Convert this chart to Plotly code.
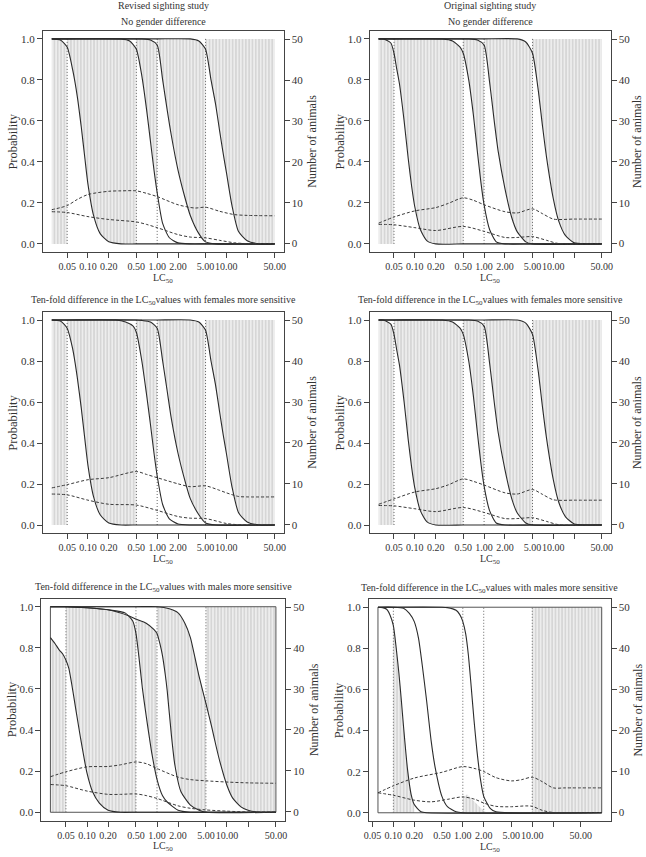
import math
import plotly.graph_objects as go

W, H = 646, 857
FONT = "Liberation Serif"
INK = "#333333"
STRIPE = "#d6d6d6"

# dose levels (dotted verticals) and LC50 ranges
DOSES_A = [0.05, 0.5, 1.0, 5.0]
DOSES_B = [0.1, 1.0, 2.0, 10.0]
RANGE_A = [0.03, 50]
RANGE_B = [0.06, 100]
PROB = [0.0, 1.0]

X_TICKS = [0.05, 0.1, 0.2, 0.5, 1, 2, 5, 10, 50]
X_TICKTEXT = ["0.05", "0.10", "0.20", "0.50", "1.00", "2.00", "5.00", "10.00", "50.00"]
X_UNLABELLED = [20]
P_TICKS = [0.0, 0.2, 0.4, 0.6, 0.8, 1.0]
P_TICKTEXT = ["0.0", "0.2", "0.4", "0.6", "0.8", "1.0"]
N_TICKS = [0, 10, 20, 30, 40, 50]

# ---- Revised sighting study, no gender difference (probability curves)
TL_C1 = [(0.03, 1.0), (0.04, 0.995), (0.05, 0.96), (0.06, 0.85), (0.07, 0.72), (0.08, 0.57),
         (0.09, 0.42), (0.1, 0.29), (0.12, 0.14), (0.15, 0.05), (0.2, 0.01), (0.3, 0.0),
         (0.5, 0.0), (1, 0.0), (5, 0.0), (50, 0.0)]
TL_C2 = [(0.03, 1.0), (0.05, 1.0), (0.3, 1.0), (0.4, 0.99), (0.5, 0.95), (0.6, 0.82), (0.7, 0.66),
         (0.8, 0.5), (0.9, 0.36), (1.0, 0.25), (1.2, 0.1), (1.5, 0.03), (2, 0.005), (3, 0.0),
         (5, 0.0), (50, 0.0)]
TL_C3 = [(0.03, 1.0), (0.05, 1.0), (0.5, 1.0), (0.6, 1.0), (0.8, 0.995), (1.0, 0.97), (1.2, 0.8),
         (1.4, 0.65), (1.6, 0.53), (2.0, 0.36), (2.5, 0.23), (3, 0.14), (4, 0.05), (5, 0.01),
         (7, 0.0), (50, 0.0)]
TL_C4 = [(0.03, 1.0), (0.05, 1.0), (0.5, 1.0), (1, 1.0), (3, 1.0), (4, 0.99), (5, 0.95), (6, 0.8),
         (7, 0.68), (8, 0.55), (9, 0.44), (10, 0.35), (12, 0.19), (15, 0.06), (20, 0.015),
         (30, 0.0), (50, 0.0)]
TL_UP = [(0.03, 8.3), (0.05, 9.3), (0.07, 10.8), (0.1, 12.0), (0.2, 12.8), (0.3, 12.9), (0.5, 12.9),
         (0.7, 12.3), (1.0, 11.5), (2, 9.5), (3.5, 8.7), (5, 8.9), (8, 7.9), (13, 7.1), (20, 6.9),
         (50, 6.8)]
TL_LO = [(0.03, 7.8), (0.05, 7.6), (0.1, 6.6), (0.2, 5.9), (0.5, 5.3), (0.7, 4.7), (1.0, 3.9),
         (2, 2.2), (3, 1.6), (5, 1.4), (8, 0.8), (13, 0.2), (20, 0.0), (50, 0.0)]

# ---- Original sighting study, no gender difference
TR_C1 = [(0.03, 1.0), (0.035, 1.0), (0.045, 0.98), (0.05, 0.93), (0.055, 0.85), (0.06, 0.78),
         (0.07, 0.6), (0.08, 0.42), (0.09, 0.28), (0.1, 0.18), (0.12, 0.07), (0.15, 0.015),
         (0.2, 0.0), (0.5, 0.0), (1, 0.0), (5, 0.0), (50, 0.0)]
TR_C2 = [(0.03, 1.0), (0.05, 1.0), (0.25, 1.0), (0.35, 0.99), (0.45, 0.96), (0.5, 0.93), (0.6, 0.8),
         (0.7, 0.63), (0.8, 0.45), (0.9, 0.3), (1.0, 0.19), (1.2, 0.07), (1.5, 0.01), (2, 0.0),
         (5, 0.0), (50, 0.0)]
TR_C3 = [(0.03, 1.0), (0.05, 1.0), (0.5, 1.0), (0.6, 1.0), (0.8, 0.995), (1.0, 0.97), (1.2, 0.79),
         (1.4, 0.6), (1.6, 0.45), (2.0, 0.27), (2.5, 0.13), (3, 0.06), (4, 0.01), (5, 0.0),
         (50, 0.0)]
TR_C4 = [(0.03, 1.0), (0.05, 1.0), (0.5, 1.0), (1, 1.0), (3, 1.0), (4, 0.985), (5, 0.93), (6, 0.76),
         (7, 0.57), (8, 0.42), (10, 0.22), (12, 0.11), (15, 0.04), (20, 0.005), (30, 0.0),
         (50, 0.0)]
TR_UP = [(0.03, 5.0), (0.05, 6.5), (0.1, 8.0), (0.2, 8.8), (0.3, 9.8), (0.5, 11.2), (0.7, 10.6),
         (1, 9.5), (2, 7.8), (3, 7.5), (5, 8.5), (7, 7.3), (10, 6.0), (20, 6.0), (50, 6.0)]
TR_LO = [(0.03, 4.7), (0.05, 4.6), (0.1, 3.9), (0.2, 3.2), (0.5, 4.2), (1, 3.0), (2, 1.5),
         (3, 1.5), (5, 1.7), (8, 0.8), (12, 0.0), (50, 0.0)]

# ---- ten-fold difference, females more sensitive
ML_C1 = [(0.03, 1.0), (0.04, 0.995), (0.05, 0.96), (0.06, 0.86), (0.07, 0.72), (0.08, 0.57),
         (0.09, 0.42), (0.1, 0.29), (0.12, 0.14), (0.15, 0.05), (0.2, 0.01), (0.3, 0.0),
         (0.5, 0.0), (1, 0.0), (5, 0.0), (50, 0.0)]
ML_C2 = [(0.03, 1.0), (0.05, 1.0), (0.25, 1.0), (0.35, 0.99), (0.45, 0.97), (0.5, 0.94), (0.6, 0.8),
         (0.7, 0.64), (0.8, 0.49), (0.9, 0.35), (1.0, 0.24), (1.2, 0.1), (1.5, 0.03), (2, 0.005),
         (3, 0.0), (5, 0.0), (50, 0.0)]
ML_C3 = [(0.03, 1.0), (0.05, 1.0), (0.5, 1.0), (0.6, 0.998), (0.8, 0.99), (1.0, 0.96), (1.2, 0.8),
         (1.4, 0.65), (1.6, 0.52), (2.0, 0.35), (2.5, 0.22), (3, 0.13), (4, 0.05), (5, 0.01),
         (7, 0.0), (50, 0.0)]
ML_C4 = [(0.03, 1.0), (0.05, 1.0), (0.5, 1.0), (1, 1.0), (3, 1.0), (4, 0.99), (5, 0.95), (6, 0.8),
         (7, 0.68), (8, 0.55), (9, 0.44), (10, 0.35), (12, 0.19), (15, 0.06), (20, 0.015),
         (30, 0.0), (50, 0.0)]
ML_UP = [(0.03, 9.0), (0.05, 9.8), (0.1, 11.0), (0.2, 11.5), (0.5, 13.0), (0.7, 12.3), (1, 11.5),
         (2, 10.0), (3, 9.3), (5, 9.5), (8, 8.4), (10, 7.8), (15, 6.9), (20, 6.8), (50, 6.8)]
ML_LO = [(0.03, 7.5), (0.05, 7.3), (0.1, 6.0), (0.2, 5.0), (0.5, 4.8), (1, 3.5), (2, 2.0),
         (3, 1.6), (5, 1.5), (10, 0.3), (15, 0.0), (50, 0.0)]

MR_C1 = TR_C1
MR_C2 = TR_C2
MR_C3 = TR_C3
MR_C4 = TR_C4
MR_UP = [(0.03, 5.0), (0.05, 6.3), (0.1, 8.0), (0.2, 8.8), (0.3, 9.7), (0.5, 11.2), (0.7, 10.6),
         (1, 9.7), (2, 7.8), (3, 7.5), (5, 8.6), (7, 7.4), (10, 6.1), (20, 6.0), (50, 6.0)]
MR_LO = [(0.03, 4.7), (0.05, 4.6), (0.1, 3.9), (0.2, 3.2), (0.5, 4.2), (1, 3.0), (2, 1.5),
         (3, 1.5), (5, 1.7), (8, 0.8), (12, 0.0), (50, 0.0)]

# ---- ten-fold difference, males more sensitive
BL_C1 = [(0.03, 0.85), (0.035, 0.82), (0.04, 0.79), (0.045, 0.77), (0.05, 0.74), (0.055, 0.7),
         (0.06, 0.63), (0.07, 0.49), (0.08, 0.37), (0.1, 0.19), (0.12, 0.1), (0.15, 0.045),
         (0.2, 0.01), (0.3, 0.0), (0.5, 0.0), (1, 0.0), (5, 0.0), (50, 0.0)]
BL_C2 = [(0.03, 1.0), (0.05, 1.0), (0.1, 0.995), (0.2, 0.985), (0.35, 0.97), (0.45, 0.93),
         (0.5, 0.87), (0.55, 0.76), (0.62, 0.6), (0.7, 0.47), (0.75, 0.4), (0.85, 0.28),
         (1.0, 0.16), (1.2, 0.08), (1.4, 0.05), (2, 0.01), (3, 0.0), (5, 0.0), (50, 0.0)]
BL_C3 = [(0.03, 1.0), (0.05, 1.0), (0.1, 0.995), (0.2, 0.985), (0.4, 0.955), (0.5, 0.94),
         (0.7, 0.92), (0.9, 0.89), (1.0, 0.87), (1.1, 0.82), (1.2, 0.76), (1.3, 0.68),
         (1.4, 0.59), (1.6, 0.38), (1.8, 0.23), (2.2, 0.1), (3, 0.035), (4, 0.01), (5, 0.0),
         (50, 0.0)]
BL_C4 = [(0.03, 1.0), (0.05, 1.0), (0.5, 1.0), (1, 1.0), (1.5, 0.99), (2, 0.97), (2.5, 0.92),
         (3, 0.85), (3.5, 0.75), (4, 0.66), (5, 0.53), (6, 0.42), (7, 0.32), (8, 0.24),
         (10, 0.13), (12, 0.07), (16, 0.025), (20, 0.01), (30, 0.0), (50, 0.0)]
BL_UP = [(0.03, 8.6), (0.05, 9.8), (0.1, 11.0), (0.2, 11.1), (0.3, 11.5), (0.5, 12.2), (0.7, 11.8),
         (1, 10.6), (2, 8.5), (3, 7.9), (5, 7.6), (10, 7.3), (20, 7.1), (50, 7.0)]
BL_LO = [(0.03, 6.7), (0.05, 6.4), (0.1, 5.1), (0.2, 4.3), (0.3, 4.3), (0.5, 4.4), (0.7, 4.0),
         (1, 3.3), (2, 1.5), (3, 0.9), (5, 0.5), (10, 0.2), (20, 0.0), (50, 0.0)]

BR_C1 = [(0.06, 1.0), (0.07, 0.998), (0.08, 0.99), (0.09, 0.96), (0.1, 0.91), (0.11, 0.8),
         (0.12, 0.68), (0.13, 0.55), (0.14, 0.42), (0.16, 0.21), (0.18, 0.09), (0.2, 0.04),
         (0.25, 0.005), (0.3, 0.0), (100, 0.0)]
BR_C2 = [(0.06, 1.0), (0.1, 1.0), (0.14, 0.995), (0.17, 0.97), (0.2, 0.93), (0.23, 0.85),
         (0.26, 0.72), (0.3, 0.55), (0.35, 0.35), (0.4, 0.22), (0.5, 0.08), (0.6, 0.03),
         (0.8, 0.005), (1, 0.0), (100, 0.0)]
BR_C3 = [(0.06, 1.0), (0.5, 1.0), (0.6, 0.998), (0.8, 0.985), (0.9, 0.965), (1.0, 0.93),
         (1.1, 0.87), (1.2, 0.77), (1.3, 0.64), (1.45, 0.45), (1.6, 0.3), (1.8, 0.16),
         (2.0, 0.08), (2.5, 0.02), (3, 0.005), (5, 0.0), (100, 0.0)]
BR_SPIKE = [(1.0, 0.07), (1.15, 0.09), (1.4, 0.06), (1.8, 0.025), (2.2, 0.0)]
BR_UP = [(0.06, 4.8), (0.1, 6.5), (0.2, 8.4), (0.5, 9.8), (1.0, 11.2), (1.5, 10.7), (2, 10.0),
         (3, 8.5), (5, 7.7), (7, 8.0), (10, 8.6), (14, 7.5), (20, 6.0), (30, 6.0), (100, 6.0)]
BR_LO = [(0.06, 4.8), (0.1, 4.2), (0.2, 3.0), (0.35, 2.6), (0.6, 3.2), (1.0, 3.8), (1.5, 3.2),
         (2, 2.3), (3, 1.5), (5, 1.4), (8, 1.6), (10, 1.5), (14, 0.5), (20, 0.0), (100, 0.0)]


def seg(curve, a, b, const):
    if curve is None:
        return [(a, const), (b, const)]
    return [pt for pt in curve if a <= pt[0] <= b]


def stacked_bands(curves, doses, xr):
    # grey band in interval k lies between curve k-1 and curve k (0 below, 1 above)
    edges = [xr[0]] + doses + [xr[1]]
    bounds = [None] + curves + [None]
    out = []
    for k in range(len(edges) - 1):
        out.append((bounds[k], bounds[k + 1], edges[k], edges[k + 1]))
    return out


# panels: box in pixels (left, right, top, bottom)
panels = [
    dict(box=(38.3, 281.7, 30.7, 252.1), xr=RANGE_A, doses=DOSES_A,
         curves=[TL_C1, TL_C2, TL_C3, TL_C4], up=TL_UP, lo=TL_LO, frame=False,
         titles=["Revised sighting study", "No gender difference"]),
    dict(box=(368.7, 612.3, 30.7, 252.1), xr=RANGE_A, doses=DOSES_A,
         curves=[TR_C1, TR_C2, TR_C3, TR_C4], up=TR_UP, lo=TR_LO, frame=False,
         titles=["Original sighting study", "No gender difference"]),
    dict(box=(38.3, 281.7, 311.8, 533.2), xr=RANGE_A, doses=DOSES_A,
         curves=[ML_C1, ML_C2, ML_C3, ML_C4], up=ML_UP, lo=ML_LO, frame=False,
         titles=["Ten-fold difference in the LC<sub>50</sub>values with females more sensitive"]),
    dict(box=(368.7, 612.3, 311.8, 533.2), xr=RANGE_A, doses=DOSES_A,
         curves=[MR_C1, MR_C2, MR_C3, MR_C4], up=MR_UP, lo=MR_LO, frame=False,
         titles=["Ten-fold difference in the LC<sub>50</sub>values with females more sensitive"]),
    dict(box=(36.8, 283.0, 598.5, 820.5), xr=RANGE_A, doses=DOSES_A,
         curves=[BL_C1, BL_C2, BL_C3, BL_C4], up=BL_UP, lo=BL_LO, frame=True,
         titles=["Ten-fold difference in the LC<sub>50</sub>values with males more sensitive"]),
    dict(box=(368.0, 612.3, 599.0, 821.0), xr=RANGE_B, doses=DOSES_B,
         curves=[BR_C1, BR_C2, BR_C3], up=BR_UP, lo=BR_LO, frame=True,
         titles=["Ten-fold difference in the LC<sub>50</sub>values with males more sensitive"]),
]
panels[5]["bands"] = [(None, BR_C1, 0.1, 0.2), (None, BR_SPIKE, 1.0, 2.2),
                      (None, None, 10.0, RANGE_B[1])]

fig = go.Figure()
layout = dict(width=W, height=H, margin=dict(l=0, r=0, t=0, b=0), autosize=False,
              paper_bgcolor="white", plot_bgcolor="white", showlegend=False,
              font=dict(family=FONT, color=INK, size=10))
annotations = []


def px_x(v):
    return v / W


def px_y(v):
    return 1 - v / H


def ann(text, x, y, size, angle=0):
    annotations.append(dict(text=text, x=px_x(x), y=px_y(y), xref="paper", yref="paper",
                            showarrow=False, textangle=angle, xanchor="center", yanchor="middle",
                            font=dict(family=FONT, size=size, color=INK)))


for i, p in enumerate(panels, start=1):
    xs = "" if i == 1 else str(i)
    ly = "" if i == 1 else str(2 * i - 1)
    ry = str(2 * i)
    L, R, T, B = p["box"]
    a, b = p["xr"]
    la, lb = math.log10(a), math.log10(b)
    pad = 0.04 * (lb - la)

    bands = p.get("bands") or stacked_bands(p["curves"], p["doses"], p["xr"])
    for lower, upper, x0, x1 in bands:
        lo_pts = seg(lower, x0, x1, 0.0)
        hi_pts = seg(upper, x0, x1, 1.0)
        poly = lo_pts + hi_pts[::-1]
        fig.add_trace(go.Scatter(
            x=[q[0] for q in poly], y=[q[1] for q in poly], mode="lines", fill="toself",
            line=dict(width=0), fillcolor="rgba(0,0,0,0)",
            fillpattern=dict(shape="|", fgcolor=STRIPE, bgcolor="white", size=3.3,
                             solidity=0.72, fillmode="replace"),
            xaxis="x" + xs, yaxis="y" + ly, hoverinfo="skip"))

    if p["frame"]:
        fig.add_trace(go.Scatter(x=[a, b, b, a, a], y=[PROB[0], PROB[0], PROB[1], PROB[1], PROB[0]],
                                 mode="lines", line=dict(color="#555555", width=1),
                                 xaxis="x" + xs, yaxis="y" + ly, hoverinfo="skip"))

    for d in p["doses"]:
        fig.add_trace(go.Scatter(x=[d, d], y=PROB, mode="lines",
                                 line=dict(color="#666666", width=1, dash="1px,2px"),
                                 xaxis="x" + xs, yaxis="y" + ly, hoverinfo="skip"))

    for c in p["curves"]:
        fig.add_trace(go.Scatter(x=[q[0] for q in c], y=[q[1] for q in c], mode="lines",
                                 line=dict(color="#2b2b2b", width=1.1, shape="spline", smoothing=0.6),
                                 xaxis="x" + xs, yaxis="y" + ly, hoverinfo="skip"))

    for c in (p["up"], p["lo"]):
        fig.add_trace(go.Scatter(x=[q[0] for q in c], y=[q[1] for q in c], mode="lines",
                                 line=dict(color="#3a3a3a", width=1, dash="3px,2px",
                                           shape="spline", smoothing=0.8),
                                 xaxis="x" + xs, yaxis="y" + ry, hoverinfo="skip"))

    dom_x = [px_x(L), px_x(R)]
    dom_y = [px_y(B), px_y(T)]
    layout["xaxis" + xs] = dict(
        domain=dom_x, anchor="y" + ly, type="log", range=[la - pad, lb + pad],
        tickvals=X_TICKS, ticktext=X_TICKTEXT, tickangle=0, ticks="outside", ticklen=5,
        tickwidth=1, tickcolor="#444444", showline=True, mirror=True, linecolor="#444444",
        linewidth=1, showgrid=False, zeroline=False,
        minor=dict(tickmode="array", tickvals=X_UNLABELLED, ticks="outside", ticklen=5,
                   tickwidth=1, tickcolor="#444444", showgrid=False),
        tickfont=dict(family=FONT, size=10, color=INK))
    layout["yaxis" + ly] = dict(
        domain=dom_y, anchor="x" + xs, range=[-0.04, 1.04], tickvals=P_TICKS,
        ticktext=P_TICKTEXT, ticks="outside", ticklen=5, tickwidth=1, tickcolor="#444444",
        showline=True, mirror=True, linecolor="#444444", linewidth=1, showgrid=False,
        zeroline=False, tickfont=dict(family=FONT, size=11, color=INK))
    layout["yaxis" + ry] = dict(
        overlaying="y" + ly, anchor="x" + xs, side="right", range=[-2.08, 52.08],
        tickvals=N_TICKS, ticks="outside", ticklen=5, tickwidth=1, tickcolor="#444444",
        showline=False, showgrid=False, zeroline=False,
        tickfont=dict(family=FONT, size=11, color=INK))

    cx = (L + R) / 2
    mid = (T + B) / 2
    if len(p["titles"]) == 2:
        ann(p["titles"][0], cx, 6, 10)
        ann(p["titles"][1], cx, 21.7, 10)
    else:
        ann(p["titles"][0], cx, T - 11, 10)
    ann("LC<sub>50</sub>", cx, B + 26, 10)
    ann("Probability", L - 30, mid, 12.5, -90)
    ann("Number of animals", min(R + 29, 639.5), mid, 12, -90)

layout["annotations"] = annotations
fig.update_layout(**layout)
# the page's default body margin would shift the whole figure by 8px
fig.write_html("out.html", config={"displayModeBar": False},
               post_script="document.body.style.margin = '0';")
